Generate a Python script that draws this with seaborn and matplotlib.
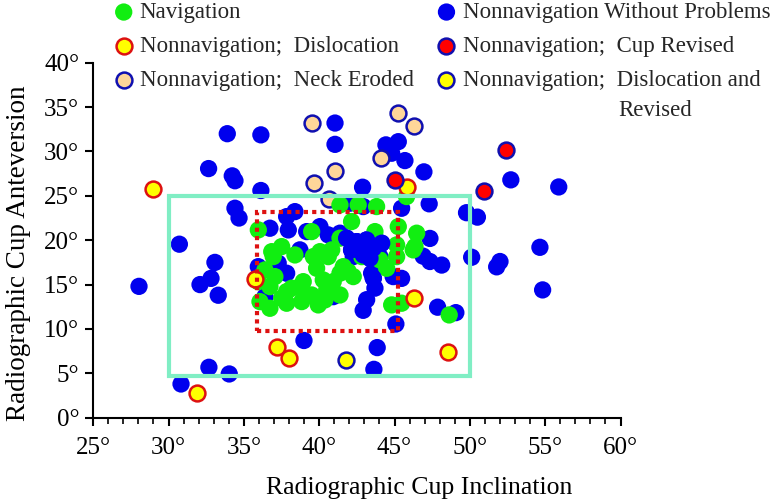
import matplotlib
matplotlib.use("Agg")
import matplotlib.pyplot as plt
import seaborn as sns
from matplotlib.patches import Rectangle
from matplotlib.ticker import MultipleLocator, FuncFormatter

# values (degrees)
nav_x = [35.96, 39.50, 37.51, 38.39, 40.05, 36.40, 37.06, 36.07, 36.73, 37.51,
         38.17, 38.94, 39.50, 38.84, 39.94, 39.83, 41.38, 42.59, 43.81, 42.15,
         45.25, 40.83, 43.70, 45.14, 45.14, 44.48, 41.93, 42.26, 40.27, 40.50,
         41.38, 44.81, 45.47, 35.96, 36.73, 37.84, 41.38, 36.85, 41.38, 37.84,
         40.93, 39.61, 36.95, 40.38, 42.82, 46.24, 40.60, 41.60, 44.03, 46.47,
         46.36, 45.80, 48.63, 38.72]
nav_y = [21.16, 20.97, 19.28, 18.34, 18.71, 16.65, 15.90, 13.08, 12.33, 13.46,
         14.59, 15.33, 13.83, 13.08, 12.71, 16.84, 23.98, 23.98, 23.79, 22.10,
         21.53, 18.91, 20.97, 19.47, 18.15, 16.84, 16.46, 15.90, 15.52, 14.40,
         13.83, 12.71, 12.90, 15.33, 14.77, 14.21, 16.28, 18.71, 20.23, 12.90,
         15.33, 18.15, 18.15, 13.27, 18.15, 18.91, 18.15, 17.02, 17.78, 20.79,
         19.28, 24.92, 11.58, 14.77]

plain_x = [41.05, 41.05, 33.90, 36.13, 32.66, 34.23, 34.41, 36.13, 34.41, 34.68,
           30.72, 33.08, 32.82, 32.09, 33.30, 28.04, 38.99, 32.68, 34.03, 30.83,
           43.85, 43.63, 45.09, 47.86, 49.07, 50.12, 52.00, 51.78, 54.83, 44.91,
           45.47, 42.92, 43.15, 43.70, 46.90, 47.35, 48.13, 44.43, 45.25, 44.81,
           45.69, 46.95, 52.72, 47.30, 49.78, 50.50, 47.35, 54.65, 42.88, 45.47,
           55.90]
inner_x = [36.73, 37.84, 38.39, 37.95, 38.72, 39.17, 37.28, 37.84, 35.96, 36.40,
           40.05, 40.60, 41.82, 42.49, 43.15, 43.59, 44.15, 42.15, 42.92, 43.37,
           43.59, 40.93, 42.26, 44.03, 41.38, 42.04, 42.92, 43.48]
plain_y = [33.20, 30.80, 32.00, 31.87, 28.07, 27.25, 26.70, 25.60, 23.60, 22.50,
           19.55, 17.50, 15.70, 15.00, 13.80, 14.80, 8.70, 5.68, 4.93, 3.80,
           7.90, 5.45, 10.56, 12.45, 11.84, 18.08, 17.60, 17.00, 14.40, 15.90,
           15.70, 12.10, 13.30, 14.60, 18.20, 17.60, 17.20, 30.74, 31.10, 29.80,
           28.97, 27.70, 26.80, 24.10, 23.10, 22.60, 20.20, 19.20, 25.97, 23.60,
           26.00]
inner_y = [21.35, 22.66, 23.22, 21.16, 18.91, 20.97, 17.41, 16.28, 17.02, 13.64,
           21.53, 20.60, 20.23, 19.84, 20.03, 19.10, 19.66, 18.91, 18.34, 17.97,
           15.72, 13.64, 18.15, 18.15, 20.79, 24.17, 23.79, 16.28]

disl_x = [28.99, 35.74, 37.22, 38.01, 31.91, 48.52, 46.29, 45.84]
disl_y = [25.78, 15.60, 8.00, 6.70, 2.82, 7.45, 13.45, 25.97]

neck_x = [39.54, 45.20, 46.30, 44.10, 41.05, 39.67, 40.65]
neck_y = [33.26, 34.30, 32.90, 29.30, 27.85, 26.40, 24.60]

rev_x = [45.03, 52.37, 50.95]
rev_y = [26.80, 30.18, 25.60]

disrev_x = [41.75]
disrev_y = [6.50]

teal_box = (30, 50, 4.7, 25.0)
red_box = (35.9, 45.2, 9.8, 23.2)

sns.set_theme(style="ticks")
plt.rcParams["font.family"] = ["Liberation Serif", "DejaVu Serif"]

fig = plt.figure(figsize=(7.74, 5.04), dpi=100)
ax = fig.add_axes([0.1204, 0.1712, 0.6813, 0.7044])

blue = "#0000ee"
sns.scatterplot(x=plain_x + inner_x, y=plain_y + inner_y, color=blue, edgecolor="none",
                s=155, label="Nonnavigation Without Problems", ax=ax, zorder=2)
sns.scatterplot(x=neck_x, y=neck_y, color="#ffd699", edgecolor="#1010b0", linewidth=1.8,
                s=130, label="Nonnavigation;  Neck Eroded", ax=ax, zorder=2)
sns.scatterplot(x=nav_x, y=nav_y, color="#11ee11", edgecolor="none", s=155,
                label="Navigation", ax=ax, zorder=3)
# a few blue ones sit on top of the green cluster
sns.scatterplot(x=inner_x[12:21], y=inner_y[12:21], color=blue, edgecolor="none",
                s=155, ax=ax, zorder=3.5, legend=False)
sns.scatterplot(x=disl_x, y=disl_y, color="#ffff00", edgecolor="#dd1111", linewidth=1.8,
                s=130, label="Nonnavigation;  Dislocation", ax=ax, zorder=4)
sns.scatterplot(x=rev_x, y=rev_y, color="#ff0000", edgecolor="#1010b0", linewidth=1.8,
                s=130, label="Nonnavigation;  Cup Revised", ax=ax, zorder=4)
sns.scatterplot(x=disrev_x, y=disrev_y, color="#ffff00", edgecolor="#1010b0", linewidth=1.8,
                s=130, label="Nonnavigation;  Dislocation and", ax=ax, zorder=4)
if ax.get_legend() is not None:
    ax.get_legend().remove()

ax.add_patch(Rectangle((teal_box[0], teal_box[2]), teal_box[1] - teal_box[0],
                       teal_box[3] - teal_box[2], fill=False, edgecolor="#80eec4",
                       lw=3, zorder=5))
ax.add_patch(Rectangle((red_box[0], red_box[2]), red_box[1] - red_box[0],
                       red_box[3] - red_box[2], fill=False, edgecolor="#dd1111",
                       lw=3, linestyle=(0, (1, 1)), zorder=6))

ax.set_xlim(25, 60)
ax.set_ylim(0, 40)
ax.xaxis.set_major_locator(MultipleLocator(5))
ax.xaxis.set_minor_locator(MultipleLocator(1))
ax.yaxis.set_major_locator(MultipleLocator(5))
deg = FuncFormatter(lambda v, p: f"{v:.0f}°")
ax.xaxis.set_major_formatter(deg)
ax.yaxis.set_major_formatter(deg)
sns.despine(ax=ax)
for sp in ["left", "bottom"]:
    ax.spines[sp].set_linewidth(1.5)
    ax.spines[sp].set_color("black")
ax.tick_params(which="major", length=6, width=1.5, labelsize=18, colors="black")
ax.tick_params(axis="x", which="minor", length=4, width=1.2, colors="black")
ax.tick_params(axis="x", pad=8)
ax.tick_params(axis="y", pad=4)

ax.set_xlabel("Radiographic Cup Inclination", fontsize=18.5, color="black")
ax.xaxis.set_label_coords(0.619, -0.168)
ax.set_ylabel("Radiographic Cup Anteversion", fontsize=19.5, color="black")
ax.yaxis.set_label_coords(-0.118, 0.462)

handles, labels = ax.get_legend_handles_labels()
hmap = dict(zip(labels, handles))
col1 = ["Navigation", "Nonnavigation;  Dislocation", "Nonnavigation;  Neck Eroded"]
col2 = ["Nonnavigation Without Problems", "Nonnavigation;  Cup Revised",
        "Nonnavigation;  Dislocation and"]
for names, x0 in [(col1, 0.148), (col2, 0.565)]:
    fig.legend([hmap[n] for n in names], names, loc="upper left",
               bbox_to_anchor=(x0, 0.996), frameon=False, fontsize=16.5,
               handlelength=0.8, handletextpad=0.3, labelspacing=0.56,
               borderpad=0, borderaxespad=0)
fig.text(0.846, 0.78, "Revised", ha="center", va="center", fontsize=16.5)

fig.savefig("out.png", dpi=100)
